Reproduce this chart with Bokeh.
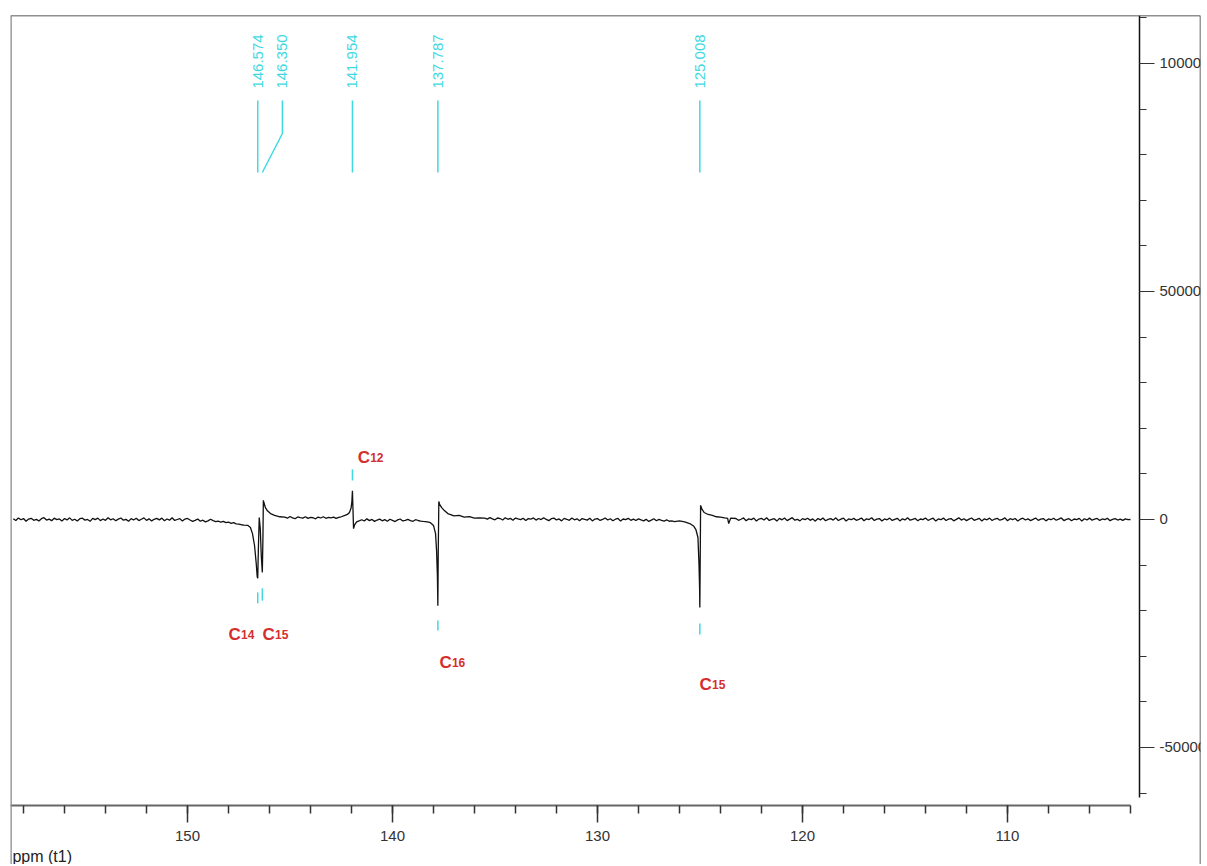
import numpy as np
from math import pi
from bokeh.plotting import figure
from bokeh.models import (LinearAxis, SingleIntervalTicker, NumeralTickFormatter,
                          Range1d, Span, Label)
from bokeh.core.properties import value
from bokeh.embed import file_html
from bokeh.resources import INLINE

FONT = value("Liberation Sans")

# ---------------- data ----------------
def grid(start, n, step=0.125):
    return [round(start - i * step, 3) for i in range(n)]

# baseline 158.5 -> 147.25
base_a_int = [150, -220, 340, -60, 210, -380, 90, 260, -170, 30,
              -310, 180, 400, -120, 70, -260, 290, -40, 130, -350,
              220, -90, 360, -200, 50, -330, 170, 280, -140, 10,
              -400, 240, -30, 310, -250, 120, -180, 390, -70, 160,
              -290, 80, 330, -160, 20, -370, 200, -110, 270, -230,
              60, 350, -190, 140, -310, 40, 250, -80, 300, -270,
              110, -150, 380, -210, 0, 190, -340, 90, 230, -120,
              -420, -200, 100, -380, -150, -520, -300, 50, -250, -450,
              -350, -600, -420, -700, -550, -850, -700, -950, -1000, -1150,
              -1250]
# C14 / C15 multiplet
pk1_ppm = [147.05, 146.93, 146.83, 146.73, 146.65, 146.6, 146.574, 146.54, 146.5, 146.45,
           146.4, 146.35, 146.32, 146.3, 146.26, 146.2, 146.1, 145.95, 145.75, 145.5]
pk1_int = [-1300, -1750, -3100, -5700, -9500, -12500, -12900, -6000, 440, -2000,
           -8000, -11600, -4000, 4200, 3500, 2600, 1900, 1300, 900, 600]
# baseline 145.25 -> 142.5
base_b_int = [520, 280, 650, 350, 180, 560, 420, 300, 610, 240,
              470, 380, 150, 530, 330, 600, 270, 450, 360, 520,
              230, 480, 600]
# C12
pk2_ppm = [142.35, 142.2, 142.1, 142.02, 141.98, 141.954, 141.93, 141.9, 141.85, 141.75, 141.6]
pk2_int = [850, 1100, 1550, 2500, 4000, 6300, 2500, -2000, -1200, -500, -250]
# baseline 141.5 -> 138.5
base_c_int = [-60, -330, 140, -240, 20, -410, -120, 90, -290, -30,
              -380, 60, -200, -450, -90, 110, -310, -170, 30, -260,
              -400, -50, -220, -350, -420]
# C16
pk3_ppm = [138.3, 138.15, 138.0, 137.9, 137.85, 137.81, 137.787, 137.77, 137.74, 137.7,
           137.6, 137.5, 137.3, 137.0, 136.75, 136.5, 136.25, 136.0, 135.75]
pk3_int = [-500, -700, -1300, -3100, -6800, -12300, -18900, -8000, 3950, 3300,
           2600, 2100, 1300, 800, 900, 500, 650, 300, 350]
# baseline 135.5 -> 126.25
base_d_int = [300, 80, 420, 150, -60, 330, 210, -100, 380, 40,
              250, -170, 310, 120, -40, 280, -210, 190, 60, 350,
              -130, 220, -20, 400, 10, -250, 170, 300, -90, 130,
              -300, 240, 50, -180, 320, -60, 150, -260, 200, 20,
              -140, 280, -310, 90, 210, -200, 40, 330, -120, 170,
              -270, 60, 230, -350, 110, -40, 260, -180, 80, -230,
              140, -90, -300, 30, -420,
              -150, 160, -280, 20, -200, -350, -100, -380, -300, -450]
# C15 (125.008)
pk4_ppm = [126.0, 125.75, 125.5, 125.3, 125.2, 125.1, 125.05, 125.02, 125.008, 124.99,
           124.97, 124.9, 124.8, 124.6, 124.4, 124.2, 124.0, 123.8, 123.65, 123.6, 123.5]
pk4_int = [-300, -500, -880, -1500, -2200, -3950, -9650, -14900, -19300, -9000,
           3100, 2200, 1540, 1100, 880, 600, 500, 350, 250, -880, 300]
# baseline 123.25 -> 104.0
base_e_int = [220, -180, 60, 340, -260, 130, -40, 290, -330, 100,
              250, -120, 380, -210, 20, 170, -350, 240, -70, 310,
              -240, 90, 400, -150, 50, -300, 190, -20, 270, -190,
              140, -360, 230, -80, 320, -270, 10, 180, -140, 360,
              -220, 70, 290, -320, 120, -50, 250, -170, 40, 330,
              -280, 160, -10, 390, -230, 80, 210, -340, 130, -60,
              300, -200, 30, 260, -310, 150, -90, 370, -160, 50,
              230, -260, 110, -30, 340, -190, 60, 280, -350, 120,
              -40, 310, -220, 90, 200, -290, 20, 360, -130, 170,
              -250, 70, 330, -180, 10, 240, -320, 140, -70, 300,
              -210, 100, 260, -150, 30, 350, -270, 180, -20, 220,
              -330, 60, 290, -110, 150, -240, 40, 320, -190, 90,
              210, -300, 130, -50, 270, -170, 80, 340, -230, 20,
              180, -280, 110, -10, 250, -350, 160, -90, 300, -140,
              60, 230, -200, 120, -30, 280, -260, 40, 190, -120,
              90, -180, 150, -40, 0]

spec_ppm = (grid(158.5, len(base_a_int)) + pk1_ppm + grid(145.25, len(base_b_int)) + pk2_ppm
            + grid(141.5, len(base_c_int)) + pk3_ppm + grid(135.5, len(base_d_int)) + pk4_ppm
            + grid(123.25, len(base_e_int)))
spec_int = (base_a_int + pk1_int + base_b_int + pk2_int + base_c_int + pk3_int
            + base_d_int + pk4_int + base_e_int)

# peak picking
peak_ppm = [146.574, 146.350, 141.954, 137.787, 125.008]
peak_text = ["146.574", "146.350", "141.954", "137.787", "125.008"]
peak_label_ppm = [146.574, 145.37, 141.954, 137.787, 125.008]
pick_top, pick_bend, pick_bot, pick_text_y = 91900, 84650, 76100, 94500

# assignment marks (dash top / bottom) and labels
dash_top = [-16000, -15100, 11000, -22150, -22800]
dash_bot = [-18400, -17800, 8550, -24350, -25200]
c_num = ["14", "15", "12", "16", "15"]
c_ppm = [148.0, 146.34, 141.70, 137.71, 125.02]
c_y = [-25200, -25200, 13600, -31400, -36200]

# ranges
X_LEFT, X_RIGHT = 158.634, 100.585
Y_BOTTOM, Y_TOP = -75658, 110526

p = figure(width=1201, height=864, x_range=Range1d(X_LEFT, X_RIGHT),
           y_range=Range1d(Y_BOTTOM, Y_TOP), output_backend="svg",
           toolbar_location=None, x_axis_location=None, y_axis_location=None,
           min_border_left=10, min_border_right=1, min_border_top=15, min_border_bottom=0,
           background_fill_color="white", border_fill_color="white",
           outline_line_color=None)
p.grid.visible = False

# bottom ppm axis
xax = LinearAxis(fixed_location=-62719, bounds=(104.0, X_LEFT),
                 ticker=SingleIntervalTicker(interval=10, num_minor_ticks=5))
xax.axis_line_color = "#666666"
xax.axis_line_width = 2
xax.major_tick_line_color = "#333333"
xax.minor_tick_line_color = "#333333"
xax.major_tick_out = 17
xax.major_tick_in = 0
xax.minor_tick_out = 8
xax.minor_tick_in = 0
xax.major_tick_line_width = 1.5
xax.minor_tick_line_width = 1.5
xax.major_label_standoff = 9
xax.major_label_text_font = "Liberation Sans"
xax.major_label_text_font_size = "15px"
xax.major_label_text_color = "#333333"
p.add_layout(xax, "below")

# right intensity axis
yax = LinearAxis(fixed_location=103.561, bounds=(-61000, Y_TOP),
                 ticker=SingleIntervalTicker(interval=50000, num_minor_ticks=5),
                 formatter=NumeralTickFormatter(format="0"))
yax.axis_line_color = "#111111"
yax.axis_line_width = 1.5
yax.major_tick_line_color = "#333333"
yax.minor_tick_line_color = "#333333"
yax.major_tick_out = 15
yax.major_tick_in = 0
yax.minor_tick_out = 7
yax.minor_tick_in = 0
yax.major_label_standoff = 5
yax.major_label_text_font = "Liberation Sans"
yax.major_label_text_font_size = "15px"
yax.major_label_text_color = "#333333"
p.add_layout(yax, "right")

# window border
p.add_layout(Span(location=Y_TOP, dimension="width", line_color="#222222", line_width=1.5))
p.add_layout(Span(location=X_LEFT, dimension="height", line_color="#888888", line_width=2.5))
p.add_layout(Span(location=X_RIGHT, dimension="height", line_color="#333333", line_width=1.5))

# spectrum
p.line(spec_ppm, spec_int, line_color="#111111", line_width=1.3)

# peak picking lines and labels
CYAN = "#3fd9e2"
p.multi_line(xs=[[lx, lx, px] for lx, px in zip(peak_label_ppm, peak_ppm)],
             ys=[[pick_top, pick_bend, pick_bot] for _ in peak_ppm],
             line_color=CYAN, line_width=1.5)
p.text(x=peak_label_ppm, y=[pick_text_y] * len(peak_ppm), text=peak_text, angle=pi / 2,
       text_align="left", text_baseline="middle", text_color=CYAN,
       text_font=FONT, text_font_size="15px")

# assignment dashes and labels
p.segment(x0=peak_ppm, y0=dash_top, x1=peak_ppm, y1=dash_bot,
          line_color=CYAN, line_width=1.5)
RED = "#d42e2e"
p.text(x=c_ppm, y=c_y, text=["C"] * len(c_ppm), text_align="left",
       text_baseline="alphabetic", text_color=RED, text_font=FONT,
       text_font_size="17px", text_font_style="bold")
p.text(x=c_ppm, y=c_y, text=c_num, x_offset=12.5, text_align="left",
       text_baseline="alphabetic", text_color=RED, text_font=FONT,
       text_font_size="12px", text_font_style="bold")

# axis title
p.add_layout(Label(x=158.54, y=-74000, text="ppm (t1)", text_align="left",
                   text_baseline="alphabetic", text_font="Liberation Sans",
                   text_font_size="16px", text_color="#222222"))

open("out.html", "w").write(file_html(p, INLINE))
